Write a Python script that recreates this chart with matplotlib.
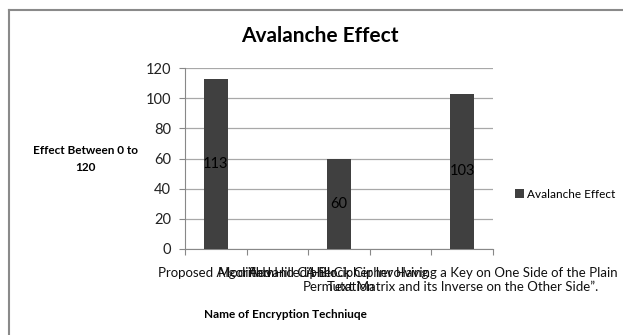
import matplotlib.pyplot as plt
from matplotlib.lines import Line2D

plt.rcParams['font.family'] = ['Lato', 'DejaVu Sans']

# data
categories = [
    "Proposed Algorithm",
    "Modified Hill Cipher",
    "Advanced Hill Cipher Involving\nPermutation",
    "",
    "A Block Cipher Having a Key on One Side of the Plain\nText Matrix and its Inverse on the Other Side\u201d.",
]
values = [113, None, 60, None, 103]
series_name = "Avalanche Effect"
y_ticks = [0, 20, 40, 60, 80, 100, 120]

fig = plt.figure(figsize=(6.23, 3.35), dpi=100)
ax = fig.add_axes([185 / 623, 1 - 249 / 335, 308 / 623, 181 / 335])

xs = [i for i, v in enumerate(values) if v is not None]
vs = [v for v in values if v is not None]
bars = ax.bar(xs, vs, width=0.39, color='#404040', zorder=3, label=series_name)
for x, v in zip(xs, vs):
    ax.text(x, v / 2, str(v), ha='center', va='center', fontsize=10.5, color='black', zorder=4)

ax.set_xlim(-0.5, len(categories) - 0.5)
ax.set_ylim(0, 120)
ax.set_yticks(y_ticks)
ax.set_yticklabels([str(t) for t in y_ticks], fontsize=10.5, color='#222222')
ax.yaxis.grid(True, color='#a8a8a8', linewidth=0.9, zorder=0)

ax.set_xticks([i - 0.5 for i in range(len(categories) + 1)])
ax.set_xticklabels([])
ax.set_xticks(range(len(categories)), minor=True)
ax.set_xticklabels(categories, minor=True, fontsize=9.5, color='#111111', linespacing=1.2)
ax.tick_params(axis='x', which='minor', length=0, pad=13)
ax.tick_params(axis='x', which='major', length=4, color='#888888', direction='out')
ax.tick_params(axis='y', length=4, color='#888888', direction='out', pad=6)

for s in ['top', 'right']:
    ax.spines[s].set_visible(False)
ax.spines['left'].set_color('#888888')
ax.spines['bottom'].set_color('#888888')

fig.text(320 / 623, 1 - 36 / 335, "Avalanche Effect", ha='center', va='center',
         fontsize=15, fontweight='bold')
fig.text(85 / 623, 1 - 159 / 335, "Effect Between 0 to\n120", ha='center', va='center',
         fontsize=8.5, fontweight='bold', linespacing=1.6)
fig.text(285 / 623, 1 - 314 / 335, "Name of Encryption Techniuqe", ha='center', va='center',
         fontsize=8.5, fontweight='bold')

ax.legend(handles=[bars], loc='center left', bbox_to_anchor=(507 / 623, 1 - 194 / 335),
          bbox_transform=fig.transFigure, frameon=False, fontsize=8.5,
          handlelength=0.7, handleheight=0.7, handletextpad=0.3, borderpad=0.2)

# chart area border (left and top edges)
fig.add_artist(Line2D([9 / 623, 9 / 623], [0, 1 - 10 / 335], transform=fig.transFigure,
                      color='#8a8a8a', linewidth=1.5))
fig.add_artist(Line2D([9 / 623, 1], [1 - 10 / 335, 1 - 10 / 335], transform=fig.transFigure,
                      color='#8a8a8a', linewidth=1.5))

fig.savefig('out.png', dpi=100)
